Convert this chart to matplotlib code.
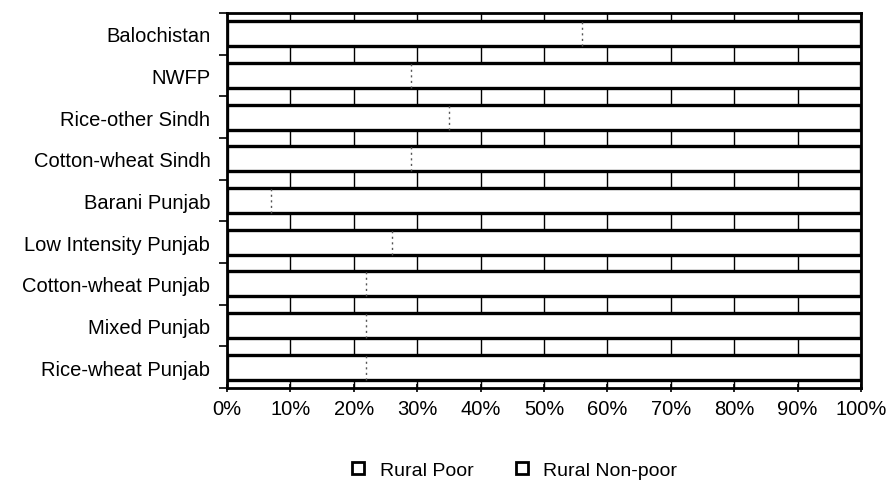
import matplotlib.pyplot as plt
import numpy as np
from matplotlib.lines import Line2D

plt.rcParams["font.family"] = ["Liberation Sans", "DejaVu Sans"]

# ---------- data ----------
regions = [
    "Rice-wheat Punjab",
    "Mixed Punjab",
    "Cotton-wheat Punjab",
    "Low Intensity Punjab",
    "Barani Punjab",
    "Cotton-wheat Sindh",
    "Rice-other Sindh",
    "NWFP",
    "Balochistan",
]
rural_poor = np.array([22, 22, 22, 26, 7, 29, 35, 29, 56])  # percent
rural_nonpoor = 100 - rural_poor
xtick_vals = np.arange(0, 101, 10)
xtick_labels = [f"{v}%" for v in xtick_vals]

# ---------- figure ----------
fig = plt.figure(figsize=(8.9, 4.81), dpi=100)
ax = fig.add_axes([227 / 890, 1 - 389 / 481, (861 - 227) / 890, (389 - 14) / 481])

y = np.arange(len(regions))
bar_h = 0.6
# segments (white fill, the split is only a faint dotted line in the scan)
ax.barh(y, rural_poor, height=bar_h, color="white", linewidth=0, zorder=3)
ax.barh(y, rural_nonpoor, left=rural_poor, height=bar_h, color="white",
        linewidth=0, zorder=3)
# heavy outline around the whole stacked bar
ax.barh(y, rural_poor + rural_nonpoor, height=bar_h, fill=False,
        edgecolor="black", linewidth=2.4, zorder=4)
ax.vlines(rural_poor, y - bar_h / 2, y + bar_h / 2, colors="#555555",
          linewidth=1.0, linestyles=(0, (1.5, 2.5)), zorder=4)

# vertical grid
ax.set_axisbelow(True)
ax.grid(True, axis="x", color="black", linewidth=1.0)
ax.grid(False, axis="y")

ax.set_xlim(0, 100)
ax.set_ylim(-0.5, len(regions) - 0.5)
ax.set_xticks(xtick_vals)
ax.set_xticklabels(xtick_labels, fontsize=14.5)
ax.set_yticks(y)
ax.set_yticklabels(regions, fontsize=14.5)
ax.tick_params(axis="y", length=0, pad=12)
ax.set_yticks(np.arange(-0.5, len(regions), 1), minor=True)
ax.tick_params(axis="y", which="minor", length=6, width=1.2, direction="out")
ax.tick_params(axis="x", length=6, width=1.2, direction="inout", pad=5)

for side in ["left", "bottom", "top", "right"]:
    ax.spines[side].set_linewidth(2.0)

# legend
handles = [
    Line2D([], [], marker="s", linestyle="none", markersize=8,
           markerfacecolor="white", markeredgecolor="black", markeredgewidth=2),
    Line2D([], [], marker="s", linestyle="none", markersize=8,
           markerfacecolor="white", markeredgecolor="black", markeredgewidth=2),
]
fig.legend(handles, ["Rural Poor", "Rural Non-poor"], loc="center",
           bbox_to_anchor=(514 / 890, 1 - 471 / 481), ncol=2, frameon=False,
           fontsize=14, handlelength=0.8, handletextpad=0.7, columnspacing=2.1)

fig.savefig("out.png", dpi=100)
